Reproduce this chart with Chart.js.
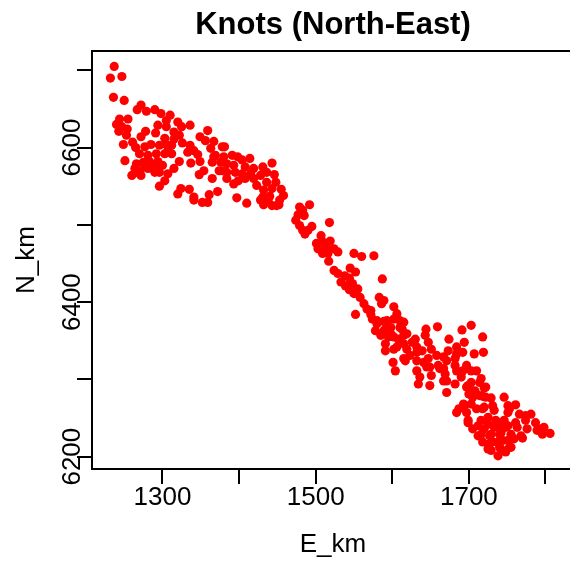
<!DOCTYPE html>
<html>
<head>
<meta charset="utf-8">
<script src="https://cdn.jsdelivr.net/npm/chart.js@4.4.1/dist/chart.umd.min.js"></script>
<style>
  html, body { margin: 0; padding: 0; background: #fff; overflow: hidden; }
</style>
</head>
<body>
<canvas id="knots" width="570" height="561"></canvas>
<script>
// knot positions, E_km / N_km in groups from north-west to south-east
const westE = [1237,1232,1247,1236,1250,1272,1267,1279,1290,1298,1310,1244,1255,1240,1247,1254,1243,1253,1305,1294,
  1305,1320,1325,1336,1315,1322,1278,1291,1272,1261,1249,1303,1315,1265,1277,1285,1296,1305,1312,1326,
  1336,1349,1359,1356,1367,1341,1346,1363,1378,1270,1281,1292,1303,1312,1251,1266,1275,1283,1294,1300,
  1322,1337,1349,1367,1378,1270,1281,1290,1260,1272,1296,1307,1315,1354,1348,1365,1303,1296,1372,1324,
  1335,1320,1341,1361,1352,1341,1359,1287,1277,1264,1292,1307,1333,1365,1376,1266];
const westN = [6705,6690,6692,6665,6661,6655,6649,6647,6649,6644,6642,6637,6637,6630,6627,6624,6621,6616,6635,6629,
  6627,6633,6627,6629,6620,6616,6621,6619,6614,6607,6604,6612,6611,6600,6601,6604,6603,6604,6603,6606,
  6603,6614,6622,6609,6608,6596,6591,6599,6601,6592,6590,6592,6592,6592,6583,6579,6581,6582,6582,6577,
  6582,6580,6582,6588,6570,6570,6573,6568,6564,6564,6568,6566,6573,6570,6565,6560,6557,6550,6543,6547,
  6546,6540,6536,6539,6529,6532,6529,6577,6575,6573,6573,6596,6594,6581,6581,6568];

const westBendE = [1381,1369,1380,1391,1398,1404,1414,1384,1393,1408,1419,1374,1384,1395,1404,1415,1431,1443,1436,1446,
  1428,1384,1399,1393,1408,1436,1448,1397,1410,1432,1443,1455,1431,1440,1453,1432,1443,1452,1438,
  1423,1428,1449,1458,1419];
const westBendN = [6601,6590,6588,6590,6588,6584,6586,6579,6577,6575,6573,6570,6568,6568,6566,6566,6575,6580,6568,6565,
  6564,6560,6557,6553,6560,6555,6555,6535,6528,6545,6547,6546,6536,6537,6532,6526,6525,6526,6532,
  6551,6532,6525,6538,6560];

const middleE = [1492,1479,1477,1485,1518,1479,1495,1483,1486,1507,1501,1509,1519,1503,1514,1524,1529,1509,1516,1517,
  1550,1560,1576,1524,1529,1545,1552,1538,1544,1587,1533,1539,1548,1555,1544,1550,1558,1583,1589,1586,
  1563,1567,1552,1602,1572,1574,1589,1580,1578,1589,1598,1602,1585,1595,1483,1490,1474,1572];
const middleN = [6526,6523,6513,6512,6503,6499,6498,6493,6488,6486,6476,6478,6479,6469,6471,6469,6465,6463,6463,6453,
  6463,6459,6460,6441,6437,6444,6439,6434,6431,6430,6426,6421,6424,6417,6416,6411,6406,6406,6402,6398,
  6398,6391,6384,6394,6384,6378,6375,6372,6363,6363,6367,6378,6357,6355,6519,6493,6506,6389];

const eastE = [1580,1606,1615,1610,1593,1598,1619,1608,1591,1591,1602,1615,1626,1632,1644,1659,1643,1647,1639,1623,
  1617,1601,1604,1632,1647,1658,1674,1691,1703,1694,1684,1673,1692,1707,1718,1719,1682,1671,1660,1645,
  1632,1636,1634,1649,1651,1669,1671,1684,1697,1710,1690,1703,1716,1682,1671,1697,1708,1720,1729,1718,
  1693,1703,1687,1593,1610,1591,1613,1602,1615,1630,1606,1619,1632,1651,1615,1641,1649,1662];
const eastN = [6376,6385,6374,6367,6367,6359,6359,6352,6346,6337,6339,6346,6348,6342,6365,6368,6357,6348,6337,6331,
  6324,6322,6311,6324,6327,6331,6352,6364,6370,6348,6342,6337,6335,6333,6355,6335,6327,6324,6318,6316,
  6311,6303,6294,6292,6305,6307,6298,6311,6318,6311,6303,6296,6301,6294,6283,6290,6285,6289,6276,6278,
  6268,6268,6262,6376,6376,6365,6365,6355,6357,6352,6342,6339,6335,6339,6327,6322,6316,6314];

const southE = [1667,1684,1667,1682,1692,1703,1667,1699,1714,1722,1700,1714,1722,1746,1731,1684,1697,1710,1718,1733,
  1751,1761,1751,1766,1781,1699,1716,1725,1735,1746,1761,1774,1787,1705,1720,1733,1748,1763,1776,1791,
  1806,1796,1712,1727,1740,1755,1770,1718,1731,1744,1759,1725,1740,1753,1738,1748,
  1701,1705,1694,1720,1753,1774,1798,1699,1712,1725,1738,1751,1789,1716,1729,1742,1768,1725,1738,1751,
  1729,1742,1755];
const southN = [6329,6333,6314,6318,6311,6311,6298,6292,6296,6290,6281,6279,6277,6277,6266,6257,6257,6262,6262,6260,
  6266,6267,6257,6255,6255,6247,6247,6251,6247,6247,6244,6247,6244,6236,6236,6238,6238,6238,6236,6236,
  6230,6229,6227,6227,6229,6229,6224,6219,6219,6221,6223,6210,6212,6212,6201,6206,
  6288,6277,6266,6264,6262,6253,6238,6244,6240,6242,6240,6240,6234,6229,6229,6231,6227,6216,6219,6221,
  6208,6210,6212];

// axis ticks (R style: every tick drawn, only some labelled)
const xTicks = [1300, 1400, 1500, 1600, 1700, 1800];
const xLabels = [1300, 1500, 1700];
const yTicks = [6200, 6300, 6400, 6500, 6600, 6700];
const yLabels = [6200, 6400, 6600];

var groupsE = [westE, westBendE, middleE, eastE, southE];
var groupsN = [westN, westBendN, middleN, eastN, southN];
var points = [];
for (var g = 0; g < groupsE.length; g++) {
  for (var i = 0; i < groupsE[g].length; i++) {
    points.push({ x: groupsE[g][i], y: groupsN[g][i] });
  }
}

var font = "'Liberation Sans', Arial, sans-serif";

/* draws box, ticks and labels the way base R plot() does */
var rAxes = {
  id: "rAxes",
  afterDraw: function (chart) {
    var ctx = chart.ctx;
    var a = chart.chartArea;
    var xs = chart.scales.x;
    var ys = chart.scales.y;
    ctx.save();
    ctx.strokeStyle = "#000";
    ctx.fillStyle = "#000";
    ctx.lineWidth = 2;

    // box (right side falls outside the window)
    ctx.beginPath();
    ctx.moveTo(chart.width + 5, a.top);
    ctx.lineTo(a.left, a.top);
    ctx.lineTo(a.left, a.bottom);
    ctx.lineTo(chart.width + 5, a.bottom);
    ctx.stroke();

    ctx.beginPath();
    xTicks.forEach(function (v) {
      var px = Math.round(xs.getPixelForValue(v));
      ctx.moveTo(px, a.bottom);
      ctx.lineTo(px, a.bottom + 15);
    });
    yTicks.forEach(function (v) {
      var py = Math.round(ys.getPixelForValue(v));
      ctx.moveTo(a.left, py);
      ctx.lineTo(a.left - 15, py);
    });
    ctx.stroke();

    ctx.font = "26px " + font;
    ctx.textAlign = "center";
    ctx.textBaseline = "alphabetic";
    xLabels.forEach(function (v) {
      ctx.fillText(String(v), xs.getPixelForValue(v), 505);
    });
    yLabels.forEach(function (v) {
      ctx.save();
      ctx.translate(80, ys.getPixelForValue(v));
      ctx.rotate(-Math.PI / 2);
      ctx.fillText(String(v), 0, 0);
      ctx.restore();
    });

    // axis titles
    ctx.fillText("E_km", 333, 552);
    ctx.save();
    ctx.translate(34, (a.top + a.bottom) / 2);
    ctx.rotate(-Math.PI / 2);
    ctx.fillText("N_km", 0, 0);
    ctx.restore();

    // main title
    ctx.font = "bold 31px " + font;
    ctx.fillText("Knots (North-East)", 333, 34);
    ctx.restore();
  }
};

var ctx = document.getElementById("knots");
var knotChart = new Chart(ctx, {
  type: "scatter",
  data: {
    datasets: [
      {
        label: "Knots",
        data: points,
        backgroundColor: "#ff0000",
        borderWidth: 0,
        pointRadius: 4.6,
        pointHoverRadius: 4.6,
      },
    ],
  },
  options: {
    responsive: false,
    animation: false,
    events: [],
    layout: { padding: { left: 92, top: 51, right: 0, bottom: 92 } },
    plugins: { legend: { display: false }, tooltip: { enabled: false }, title: { display: false } },
    scales: {
      x: { type: "linear", min: 1208, max: 1826, display: false },
      y: { type: "linear", min: 6184, max: 6725, display: false },
    },
  },
  plugins: [rAxes],
});
</script>
</body>
</html>
